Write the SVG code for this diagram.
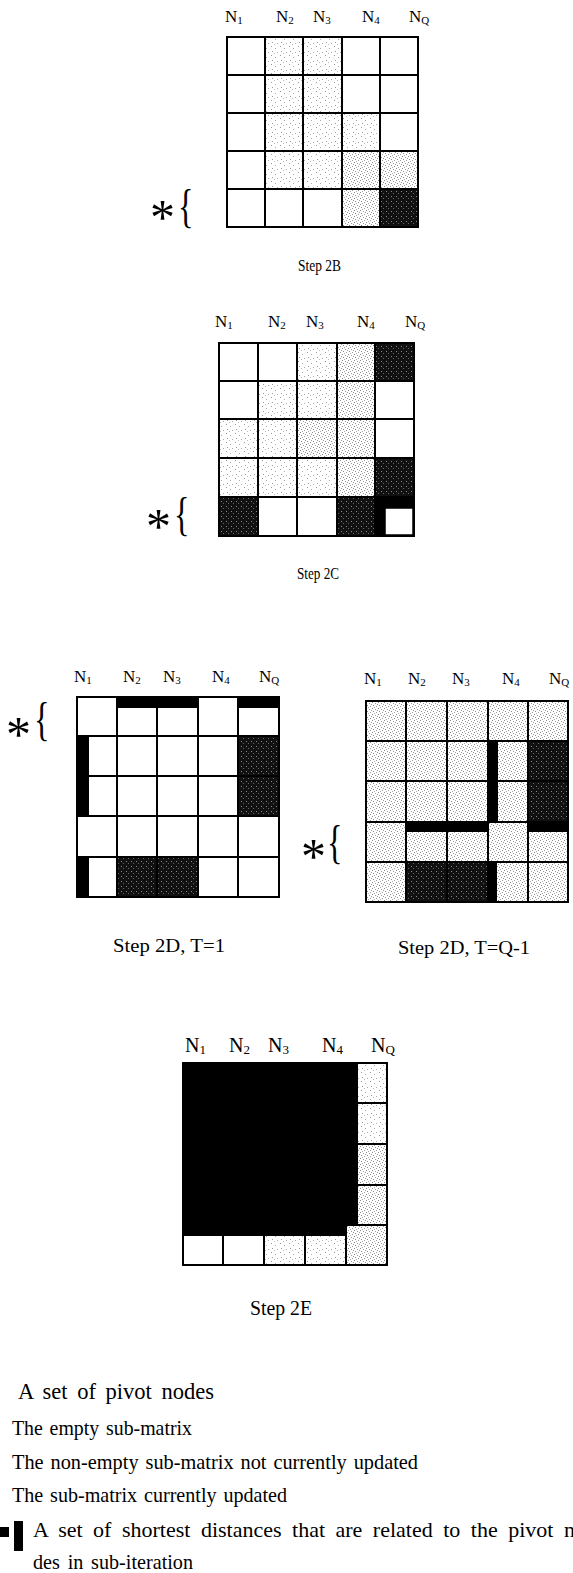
<svg xmlns="http://www.w3.org/2000/svg" width="573" height="1573" viewBox="0 0 573 1573">
  <style>
    .t { font-family: "Liberation Serif", "Times New Roman", serif; fill: #000; }
    .c { stroke: #000; stroke-width: 2; }
    .w { fill: #fff; }
    .l1 { fill: url(#st1); }
    .l2 { fill: url(#st2); }
    .d { fill: url(#dk); }
    .bar { fill: #000; }
    .ast { font-family: "Liberation Serif", "Times New Roman", serif; font-size: 50px; }
    .brc { font-family: "Liberation Serif", "Times New Roman", serif; font-size: 46px; }
  </style>
  <defs>
    <!-- sparse stipple -->
    <pattern id="st1" width="9" height="9" patternUnits="userSpaceOnUse">
      <rect width="9" height="9" fill="#fff"/>
      <rect x="1" y="1" width="1" height="1" fill="#999"/>
      <rect x="5" y="3" width="1" height="1" fill="#aaa"/>
      <rect x="2" y="6" width="1" height="1" fill="#999"/>
      <rect x="7" y="7" width="1" height="1" fill="#aaa"/>
      <rect x="4" y="8" width="1" height="1" fill="#bbb"/>
    </pattern>
    <!-- denser stipple -->
    <pattern id="st2" width="6" height="6" patternUnits="userSpaceOnUse">
      <rect width="6" height="6" fill="#fff"/>
      <rect x="0" y="0" width="1" height="1" fill="#888"/>
      <rect x="3" y="1" width="1" height="1" fill="#999"/>
      <rect x="1" y="3" width="1" height="1" fill="#888"/>
      <rect x="4" y="4" width="1" height="1" fill="#999"/>
      <rect x="2" y="5" width="1" height="1" fill="#aaa"/>
      <rect x="5" y="2" width="1" height="1" fill="#999"/>
    </pattern>
    <!-- dark speckled fill -->
    <pattern id="dk" width="5" height="5" patternUnits="userSpaceOnUse">
      <rect width="5" height="5" fill="#111"/>
      <rect x="1" y="1" width="1" height="1" fill="#888"/>
      <rect x="3" y="3" width="1" height="1" fill="#666"/>
    </pattern>
  </defs>

  <!-- Step 2B -->
  <g id="step2b">
    <g class="t" font-size="17">
      <text x="225" y="22">N<tspan font-size="11" dy="2">1</tspan></text>
      <text x="276" y="22">N<tspan font-size="11" dy="2">2</tspan></text>
      <text x="313" y="22">N<tspan font-size="11" dy="2">3</tspan></text>
      <text x="362" y="22">N<tspan font-size="11" dy="2">4</tspan></text>
      <text x="409" y="22">N<tspan font-size="11" dy="2">Q</tspan></text>
    </g>
    <g class="c">
      <rect class="w" x="227" y="37" width="38" height="38"/>
      <rect class="l1" x="265" y="37" width="38" height="38"/>
      <rect class="l1" x="303" y="37" width="39" height="38"/>
      <rect class="w" x="342" y="37" width="38" height="38"/>
      <rect class="w" x="380" y="37" width="38" height="38"/>
      <rect class="w" x="227" y="75" width="38" height="38"/>
      <rect class="l1" x="265" y="75" width="38" height="38"/>
      <rect class="l1" x="303" y="75" width="39" height="38"/>
      <rect class="w" x="342" y="75" width="38" height="38"/>
      <rect class="w" x="380" y="75" width="38" height="38"/>
      <rect class="w" x="227" y="113" width="38" height="38"/>
      <rect class="l1" x="265" y="113" width="38" height="38"/>
      <rect class="l1" x="303" y="113" width="39" height="38"/>
      <rect class="l1" x="342" y="113" width="38" height="38"/>
      <rect class="w" x="380" y="113" width="38" height="38"/>
      <rect class="w" x="227" y="151" width="38" height="38"/>
      <rect class="l1" x="265" y="151" width="38" height="38"/>
      <rect class="l1" x="303" y="151" width="39" height="38"/>
      <rect class="l2" x="342" y="151" width="38" height="38"/>
      <rect class="l2" x="380" y="151" width="38" height="38"/>
      <rect class="w" x="227" y="189" width="38" height="38"/>
      <rect class="w" x="265" y="189" width="38" height="38"/>
      <rect class="w" x="303" y="189" width="39" height="38"/>
      <rect class="l2" x="342" y="189" width="38" height="38"/>
      <rect class="d" x="380" y="189" width="38" height="38"/>
    </g>
    <text class="ast" x="150" y="234">*</text>
    <text class="brc" transform="translate(178,222) scale(0.7,1)">{</text>
    <text class="t" font-size="17" x="298" y="271" textLength="43" lengthAdjust="spacingAndGlyphs">Step  2B</text>
  </g>

  <!-- Step 2C -->
  <g id="step2c">
    <g class="t" font-size="17">
      <text x="215" y="327">N<tspan font-size="11" dy="2">1</tspan></text>
      <text x="268" y="327">N<tspan font-size="11" dy="2">2</tspan></text>
      <text x="306" y="327">N<tspan font-size="11" dy="2">3</tspan></text>
      <text x="357" y="327">N<tspan font-size="11" dy="2">4</tspan></text>
      <text x="405" y="327">N<tspan font-size="11" dy="2">Q</tspan></text>
    </g>
    <g class="c">
      <rect class="w" x="219" y="343" width="39" height="38"/>
      <rect class="w" x="258" y="343" width="39" height="38"/>
      <rect class="l1" x="297" y="343" width="40" height="38"/>
      <rect class="l2" x="337" y="343" width="38" height="38"/>
      <rect class="d" x="375" y="343" width="39" height="38"/>
      <rect class="w" x="219" y="381" width="39" height="38"/>
      <rect class="l1" x="258" y="381" width="39" height="38"/>
      <rect class="l1" x="297" y="381" width="40" height="38"/>
      <rect class="l2" x="337" y="381" width="38" height="38"/>
      <rect class="w" x="375" y="381" width="39" height="38"/>
      <rect class="l1" x="219" y="419" width="39" height="39"/>
      <rect class="l1" x="258" y="419" width="39" height="39"/>
      <rect class="l2" x="297" y="419" width="40" height="39"/>
      <rect class="l2" x="337" y="419" width="38" height="39"/>
      <rect class="w" x="375" y="419" width="39" height="39"/>
      <rect class="l1" x="219" y="458" width="39" height="39"/>
      <rect class="l1" x="258" y="458" width="39" height="39"/>
      <rect class="l1" x="297" y="458" width="40" height="39"/>
      <rect class="l2" x="337" y="458" width="38" height="39"/>
      <rect class="d" x="375" y="458" width="39" height="39"/>
      <rect class="d" x="219" y="497" width="39" height="39"/>
      <rect class="w" x="258" y="497" width="39" height="39"/>
      <rect class="w" x="297" y="497" width="40" height="39"/>
      <rect class="d" x="337" y="497" width="38" height="39"/>
      <rect fill="#000" x="375" y="497" width="39" height="39"/>
      <rect class="w" x="385" y="508" width="28" height="27" stroke-width="1.5"/>
    </g>
    <text class="ast" x="146" y="543">*</text>
    <text class="brc" transform="translate(174,530) scale(0.7,1)">{</text>
    <text class="t" font-size="17" x="297" y="579" textLength="42" lengthAdjust="spacingAndGlyphs">Step  2C</text>
  </g>

  <!-- Step 2D, T=1 -->
  <g id="step2d-t1">
    <g class="t" font-size="17">
      <text x="74" y="682">N<tspan font-size="11" dy="2">1</tspan></text>
      <text x="123" y="682">N<tspan font-size="11" dy="2">2</tspan></text>
      <text x="163" y="682">N<tspan font-size="11" dy="2">3</tspan></text>
      <text x="212" y="682">N<tspan font-size="11" dy="2">4</tspan></text>
      <text x="259" y="682">N<tspan font-size="11" dy="2">Q</tspan></text>
    </g>
    <g class="c">
      <rect class="w" x="77" y="697" width="40" height="39"/>
      <rect class="w" x="117" y="697" width="40" height="39"/>
      <rect class="w" x="157" y="697" width="41" height="39"/>
      <rect class="w" x="198" y="697" width="40" height="39"/>
      <rect class="w" x="238" y="697" width="41" height="39"/>
      <rect class="w" x="77" y="736" width="40" height="40"/>
      <rect class="w" x="117" y="736" width="40" height="40"/>
      <rect class="w" x="157" y="736" width="41" height="40"/>
      <rect class="w" x="198" y="736" width="40" height="40"/>
      <rect class="d" x="238" y="736" width="41" height="40"/>
      <rect class="w" x="77" y="776" width="40" height="40"/>
      <rect class="w" x="117" y="776" width="40" height="40"/>
      <rect class="w" x="157" y="776" width="41" height="40"/>
      <rect class="w" x="198" y="776" width="40" height="40"/>
      <rect class="d" x="238" y="776" width="41" height="40"/>
      <rect class="w" x="77" y="816" width="40" height="41"/>
      <rect class="w" x="117" y="816" width="40" height="41"/>
      <rect class="w" x="157" y="816" width="41" height="41"/>
      <rect class="w" x="198" y="816" width="40" height="41"/>
      <rect class="w" x="238" y="816" width="41" height="41"/>
      <rect class="w" x="77" y="857" width="40" height="40"/>
      <rect class="d" x="117" y="857" width="40" height="40"/>
      <rect class="d" x="157" y="857" width="41" height="40"/>
      <rect class="w" x="198" y="857" width="40" height="40"/>
      <rect class="w" x="238" y="857" width="41" height="40"/>
    </g>
    <g class="bar">
      <rect x="117" y="696" width="81" height="12"/>
      <rect x="238" y="696" width="42" height="12"/>
      <rect x="76" y="736" width="13" height="80"/>
      <rect x="76" y="857" width="13" height="41"/>
    </g>
    <text class="ast" x="6" y="751">*</text>
    <text class="brc" transform="translate(34,735) scale(0.7,1)">{</text>
    <text class="t" font-size="19" x="113" y="952" textLength="112" lengthAdjust="spacingAndGlyphs">Step  2D,  T=1</text>
  </g>

  <!-- Step 2D, T=Q-1 -->
  <g id="step2d-tq">
    <g class="t" font-size="17">
      <text x="364" y="684">N<tspan font-size="11" dy="2">1</tspan></text>
      <text x="408" y="684">N<tspan font-size="11" dy="2">2</tspan></text>
      <text x="452" y="684">N<tspan font-size="11" dy="2">3</tspan></text>
      <text x="502" y="684">N<tspan font-size="11" dy="2">4</tspan></text>
      <text x="549" y="684">N<tspan font-size="11" dy="2">Q</tspan></text>
    </g>
    <g class="c">
      <rect class="l2" x="366" y="701" width="40" height="40"/>
      <rect class="l2" x="406" y="701" width="41" height="40"/>
      <rect class="l2" x="447" y="701" width="41" height="40"/>
      <rect class="l2" x="488" y="701" width="40" height="40"/>
      <rect class="l2" x="528" y="701" width="40" height="40"/>
      <rect class="l2" x="366" y="741" width="40" height="40"/>
      <rect class="l2" x="406" y="741" width="41" height="40"/>
      <rect class="l2" x="447" y="741" width="41" height="40"/>
      <rect class="l2" x="488" y="741" width="40" height="40"/>
      <rect class="d" x="528" y="741" width="40" height="40"/>
      <rect class="l2" x="366" y="781" width="40" height="41"/>
      <rect class="l2" x="406" y="781" width="41" height="41"/>
      <rect class="l2" x="447" y="781" width="41" height="41"/>
      <rect class="l2" x="488" y="781" width="40" height="41"/>
      <rect class="d" x="528" y="781" width="40" height="41"/>
      <rect class="l2" x="366" y="822" width="40" height="40"/>
      <rect class="l2" x="406" y="822" width="41" height="40"/>
      <rect class="l2" x="447" y="822" width="41" height="40"/>
      <rect class="l2" x="488" y="822" width="40" height="40"/>
      <rect class="l2" x="528" y="822" width="40" height="40"/>
      <rect class="l2" x="366" y="862" width="40" height="40"/>
      <rect class="d" x="406" y="862" width="41" height="40"/>
      <rect class="d" x="447" y="862" width="41" height="40"/>
      <rect class="l2" x="488" y="862" width="40" height="40"/>
      <rect class="l2" x="528" y="862" width="40" height="40"/>
    </g>
    <g class="bar">
      <rect x="487" y="741" width="11" height="81"/>
      <rect x="487" y="862" width="10" height="41"/>
      <rect x="406" y="821" width="82" height="11"/>
      <rect x="528" y="821" width="41" height="11"/>
    </g>
    <text class="ast" x="301" y="873">*</text>
    <text class="brc" transform="translate(327,858) scale(0.7,1)">{</text>
    <text class="t" font-size="19" x="398" y="954" textLength="132" lengthAdjust="spacingAndGlyphs">Step  2D,  T=Q-1</text>
  </g>

  <!-- Step 2E -->
  <g id="step2e">
    <g class="t" font-size="20">
      <text x="185" y="1052">N<tspan font-size="13" dy="2">1</tspan></text>
      <text x="229" y="1052">N<tspan font-size="13" dy="2">2</tspan></text>
      <text x="268" y="1052">N<tspan font-size="13" dy="2">3</tspan></text>
      <text x="322" y="1052">N<tspan font-size="13" dy="2">4</tspan></text>
      <text x="371" y="1052">N<tspan font-size="13" dy="2">Q</tspan></text>
    </g>
    <g class="c">
      <rect class="l1" x="357" y="1063" width="30" height="40"/>
      <rect class="l1" x="357" y="1103" width="30" height="41"/>
      <rect class="l2" x="357" y="1144" width="30" height="41"/>
      <rect class="l2" x="357" y="1185" width="30" height="40"/>
      <rect class="l2" x="346" y="1225" width="41" height="40"/>
      <rect class="w" x="183" y="1235" width="40" height="30"/>
      <rect class="w" x="223" y="1235" width="41" height="30"/>
      <rect class="l1" x="264" y="1235" width="41" height="30"/>
      <rect class="l1" x="305" y="1235" width="41" height="30"/>
    </g>
    <path fill="#000" d="M182,1062 H358 V1226 H347 V1236 H182 Z"/>
    <text class="t" font-size="20" x="250" y="1315" textLength="62" lengthAdjust="spacingAndGlyphs">Step  2E</text>
  </g>

  <!-- Legend -->
  <g id="legend" class="t" font-size="22">
    <text x="18" y="1399" font-size="23" textLength="196" lengthAdjust="spacingAndGlyphs" word-spacing="4">A set of pivot nodes</text>
    <text x="12" y="1435" textLength="180" lengthAdjust="spacingAndGlyphs" word-spacing="2">The empty sub-matrix</text>
    <text x="12" y="1469" textLength="406" lengthAdjust="spacingAndGlyphs" word-spacing="2">The non-empty sub-matrix not currently updated</text>
    <text x="12" y="1502" textLength="275" lengthAdjust="spacingAndGlyphs" word-spacing="2">The sub-matrix currently updated</text>
    <rect x="0" y="1527" width="9" height="10"/>
    <rect x="14" y="1521" width="9" height="30"/>
    <text x="33" y="1537" word-spacing="5">A set of shortest distances that are related to the pivot n</text>
    <text x="33" y="1569" textLength="160" lengthAdjust="spacingAndGlyphs" word-spacing="3">des in sub-iteration</text>
  </g>
</svg>
